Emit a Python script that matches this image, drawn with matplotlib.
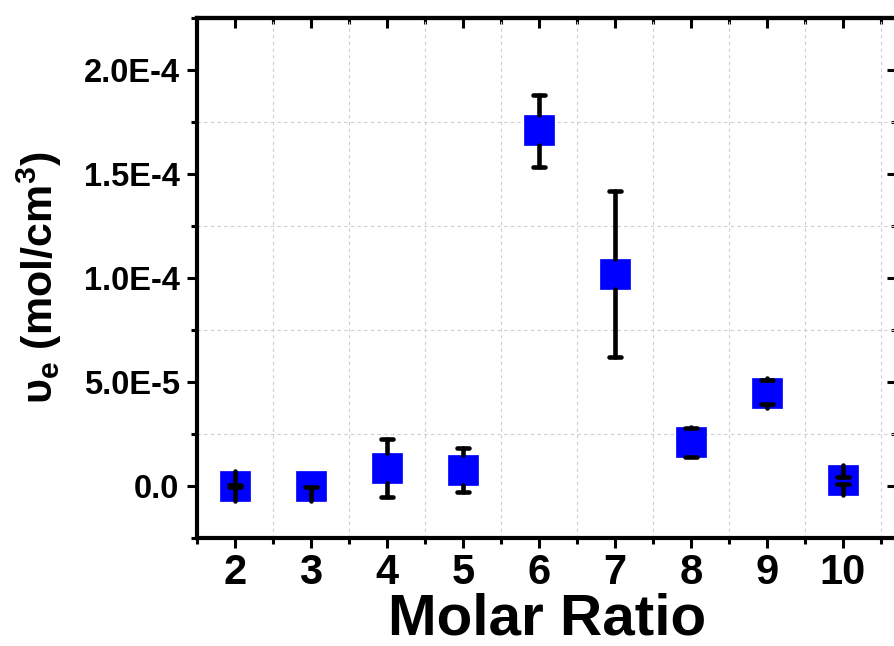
import matplotlib
matplotlib.use("Agg")
import matplotlib.pyplot as plt
import numpy as np
from matplotlib.ticker import MultipleLocator, FixedLocator, FixedFormatter
from matplotlib.markers import MarkerStyle

# ---- data ----
molar_ratio = [2, 3, 4, 5, 6, 7, 8, 9, 10]
nu_e = [0.0, 0.0, 8.6e-6, 7.9e-6, 1.714e-4, 1.02e-4, 2.1e-5, 4.5e-5, 2.9e-6]
err_up = [5e-7, 0.0, 1.4e-5, 1.05e-5, 1.68e-5, 4.0e-5, 7.0e-6, 5.8e-6, 1.7e-6]
err_dn = [5e-7, 5e-7, 1.4e-5, 1.05e-5, 1.82e-5, 4.0e-5, 7.0e-6, 5.6e-6, 1.7e-6]

xtick_vals = [2, 3, 4, 5, 6, 7, 8, 9, 10]
xtick_labels = ['2', '3', '4', '5', '6', '7', '8', '9', '10']
ytick_vals = [0.0, 5e-5, 1e-4, 1.5e-4, 2e-4]
ytick_labels = ['0.0', '5.0E-5', '1.0E-4', '1.5E-4', '2.0E-4']

plt.rcParams['font.family'] = ['Liberation Sans', 'DejaVu Sans']
plt.rcParams['font.weight'] = 'bold'
plt.rcParams['mathtext.fontset'] = 'custom'
plt.rcParams['mathtext.rm'] = 'Liberation Sans:bold'
plt.rcParams['mathtext.it'] = 'Liberation Sans'
plt.rcParams['mathtext.bf'] = 'Liberation Sans:bold'

DPI = 100
fig = plt.figure(figsize=(8.95, 6.46), dpi=DPI)
ax = fig.add_axes([0.220, 0.167, 0.782, 0.805])
ax.set_xlim(1.5, 10.71)
ax.set_ylim(-2.5e-5, 2.25e-4)

x = np.array(molar_ratio, dtype=float)
y = np.array(nu_e)
eu = np.array(err_up)
ed = np.array(err_dn)

ms = 21.6
ax.plot(x, y, ls='none', marker='s', ms=ms, mfc='#0000ff', mec='#0000ff', mew=0.5, zorder=3)

# half marker size in data units (error bar lines run from cap to marker edge)
inv = ax.transData.inverted()
h_px = ms / 2 * DPI / 72
h = inv.transform((0, h_px))[1] - inv.transform((0, 0))[1]

lw = 3.3
up = eu > 0
ax.vlines(x[up], y[up] + eu[up], y[up] + h, colors='k', lw=lw, capstyle='round', zorder=4)
dn = ed > 0
ax.vlines(x[dn], y[dn] - ed[dn], y[dn] - h, colors='k', lw=lw, capstyle='round', zorder=4)
cap = MarkerStyle('_', capstyle='round')
ax.plot(x[up], (y + eu)[up], ls='none', marker=cap, ms=8, mew=lw, color='k', zorder=5)
ax.plot(x[dn], (y - ed)[dn], ls='none', marker=cap, ms=8, mew=lw, color='k', zorder=5)

# ticks
ax.xaxis.set_major_locator(FixedLocator(xtick_vals))
ax.xaxis.set_major_formatter(FixedFormatter(xtick_labels))
ax.xaxis.set_minor_locator(MultipleLocator(0.5))
ax.yaxis.set_major_locator(FixedLocator(ytick_vals))
ax.yaxis.set_major_formatter(FixedFormatter(ytick_labels))
ax.yaxis.set_minor_locator(MultipleLocator(2.5e-5))

ax.tick_params(which='major', direction='out', length=7.5, width=2.2)
ax.tick_params(which='minor', direction='out', length=4.3, width=2.2)
ax.tick_params(axis='x', which='major', labelsize=30, pad=3)
ax.tick_params(axis='y', which='major', labelsize=23.5, pad=5)
for lab in ax.get_xticklabels() + ax.get_yticklabels():
    lab.set_fontweight('bold')

for sp in ax.spines.values():
    sp.set_linewidth(3)

secx = ax.secondary_xaxis('top')
secx.xaxis.set_major_locator(FixedLocator(xtick_vals))
secx.xaxis.set_minor_locator(MultipleLocator(0.5))
secx.tick_params(which='major', direction='in', length=7.5, width=2.2, labeltop=False)
secx.tick_params(which='minor', direction='in', length=4.3, width=2.2)
secx.spines['top'].set_linewidth(3)

secy = ax.secondary_yaxis('right')
secy.yaxis.set_major_locator(FixedLocator(ytick_vals))
secy.yaxis.set_minor_locator(MultipleLocator(2.5e-5))
secy.tick_params(which='major', direction='in', length=7.5, width=2.2, labelright=False)
secy.tick_params(which='minor', direction='in', length=4.3, width=2.2)
secy.spines['right'].set_linewidth(3)

ax.grid(which='minor', ls=(0, (3, 3)), color='#cfcfcf', lw=0.8)
ax.grid(which='major', visible=False)
ax.set_axisbelow(True)

ax.set_xlabel('Molar Ratio', fontsize=42, fontweight='bold', labelpad=0)
ax.set_ylabel(r'$\upsilon_{e}$ (mol/cm$^{3}$)', fontsize=31, fontweight='bold', labelpad=14)

fig.savefig('out.png', dpi=DPI)
